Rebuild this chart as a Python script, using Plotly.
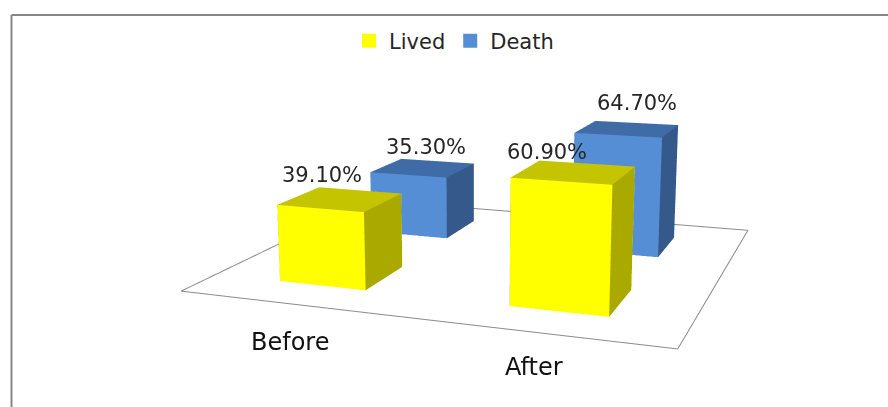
import plotly.graph_objects as go

categories = ["Before", "After"]
lived_values = [39.1, 60.9]
death_values = [35.3, 64.7]
value_labels_lived = ["39.10%", "60.90%"]
value_labels_death = ["35.30%", "64.70%"]

LIVED_COLORS = {"front": "#FFFF00", "top": "#C4C400", "side": "#A9A900"}
DEATH_COLORS = {"front": "#558ED5", "top": "#3F6CA6", "side": "#34598A"}
BAR_WIDTH = 0.39
BAR_DEPTH = 0.413
FIG_W, FIG_H = 888, 994
VIEW_SHIFT = 294  # the tall scene gives a long lens; the top part sits above the page
LABEL_SHIFTS = {(0, 0): (-19, 24), (0, 1): (-27, 20), (1, 0): (3, 21), (1, 1): (10, 26)}
CATEGORY_PIXELS = {"Before": (290, 342), "After": (534, 367)}


def bar_mesh(values, series_index, colors, name):
    """One Mesh3d holding every box of a series."""
    xs, ys, zs, i, j, k, face = [], [], [], [], [], [], []
    for cat_index, value in enumerate(values):
        x0 = cat_index + (1 - BAR_WIDTH) / 2
        x1 = x0 + BAR_WIDTH
        y0 = series_index + (1 - BAR_DEPTH) / 2
        y1 = y0 + BAR_DEPTH
        n = len(xs)
        xs += [x0, x1, x1, x0, x0, x1, x1, x0]
        ys += [y0, y0, y1, y1, y0, y0, y1, y1]
        zs += [0, 0, 0, 0, value, value, value, value]
        quads = [
            ((0, 1, 5, 4), "front"),
            ((1, 2, 6, 5), "side"),
            ((4, 5, 6, 7), "top"),
            ((0, 3, 7, 4), "side"),
            ((3, 2, 6, 7), "front"),
        ]
        for (a, b, c, d), kind in quads:
            i += [n + a, n + a]
            j += [n + b, n + c]
            k += [n + c, n + d]
            face += [colors[kind]] * 2
    return go.Mesh3d(
        x=xs, y=ys, z=zs, i=i, j=j, k=k,
        facecolor=face, flatshading=True,
        lighting=dict(ambient=1, diffuse=0, specular=0, fresnel=0, roughness=1),
        name=name, showlegend=False, hoverinfo="skip",
    )


def legend_key(values, series_index, color, name):
    """Square legend entry; its marker sits inside the series' first box."""
    return go.Scatter3d(
        x=[0.5], y=[series_index + 0.5], z=[values[0] / 2],
        mode="markers", marker=dict(symbol="square", size=14, color=color),
        name=name, showlegend=True, hoverinfo="skip",
    )


fig = go.Figure()
fig.add_trace(go.Scatter3d(
    x=[0, 2, 2, 0, 0], y=[0, 0, 2, 2, 0], z=[0, 0, 0, 0, 0],
    mode="lines", line=dict(color="#8C8C8C", width=2),
    showlegend=False, hoverinfo="skip",
))
fig.add_trace(bar_mesh(lived_values, 0, LIVED_COLORS, "Lived"))
fig.add_trace(bar_mesh(death_values, 1, DEATH_COLORS, "Death"))
fig.add_trace(legend_key(lived_values, 0, LIVED_COLORS["front"], "Lived"))
fig.add_trace(legend_key(death_values, 1, DEATH_COLORS["front"], "Death"))

LABEL_FONT = dict(family="DejaVu Sans", size=21, color="#262626")
annotations = []
for series_index, (values, labels) in enumerate(
    [(lived_values, value_labels_lived), (death_values, value_labels_death)]
):
    for cat_index, (value, label) in enumerate(zip(values, labels)):
        xshift, yshift = LABEL_SHIFTS[(series_index, cat_index)]
        annotations.append(dict(
            x=cat_index + 0.5, y=series_index + 0.5, z=value, text=label,
            showarrow=False, xshift=xshift, yshift=yshift, font=LABEL_FONT,
        ))

category_annotations = [
    dict(
        xref="paper", yref="paper", xanchor="center", yanchor="middle",
        x=CATEGORY_PIXELS[name][0] / FIG_W,
        y=1 - (CATEGORY_PIXELS[name][1] + VIEW_SHIFT) / FIG_H,
        text=name, showarrow=False,
        font=dict(family="DejaVu Sans", size=24, color="#111111"),
    )
    for name in categories
]

hidden = dict(visible=False, showgrid=False, zeroline=False, showticklabels=False)
frame_top = 1 - (15 + VIEW_SHIFT) / FIG_H
fig.update_layout(
    width=FIG_W, height=FIG_H, autosize=False,
    margin=dict(l=0, r=0, t=0, b=0),
    paper_bgcolor="white",
    annotations=category_annotations,
    scene=dict(
        domain=dict(x=[0, 1], y=[0, 1]),
        xaxis=dict(range=[0, 2], **hidden),
        yaxis=dict(range=[0, 2], **hidden),
        zaxis=dict(range=[0, 100], **hidden),
        aspectmode="manual",
        aspectratio=dict(x=1, y=0.9053, z=0.4133),
        camera=dict(
            eye=dict(x=0.8418, y=-2.4220, z=0.4889),
            center=dict(x=-0.0883, y=-0.0480, z=-0.0786),
            up=dict(x=-0.1327, y=0.3706, z=1.7696),
            projection=dict(type="perspective"),
        ),
        annotations=annotations,
    ),
    legend=dict(
        orientation="h", x=454 / FIG_W, xanchor="center",
        y=1 - (41 + VIEW_SHIFT) / FIG_H, yanchor="middle",
        font=dict(family="DejaVu Sans", size=21, color="#262626"),
        itemclick=False, itemdoubleclick=False,
    ),
    shapes=[
        dict(type="line", xref="paper", yref="paper",
             x0=11.5 / FIG_W, x1=1, y0=frame_top, y1=frame_top,
             line=dict(color="#868686", width=2)),
        dict(type="line", xref="paper", yref="paper",
             x0=11.5 / FIG_W, x1=11.5 / FIG_W, y0=frame_top, y1=0,
             line=dict(color="#868686", width=2)),
    ],
)

fig.write_html(
    "out.html",
    config={"displayModeBar": False, "responsive": False},
    post_script=(
        "var gd=document.getElementById('{plot_id}');"
        f"gd.style.marginTop='-{VIEW_SHIFT}px';"
        "document.documentElement.style.overflow='hidden';"
        "document.body.style.overflow='hidden';"
    ),
)
